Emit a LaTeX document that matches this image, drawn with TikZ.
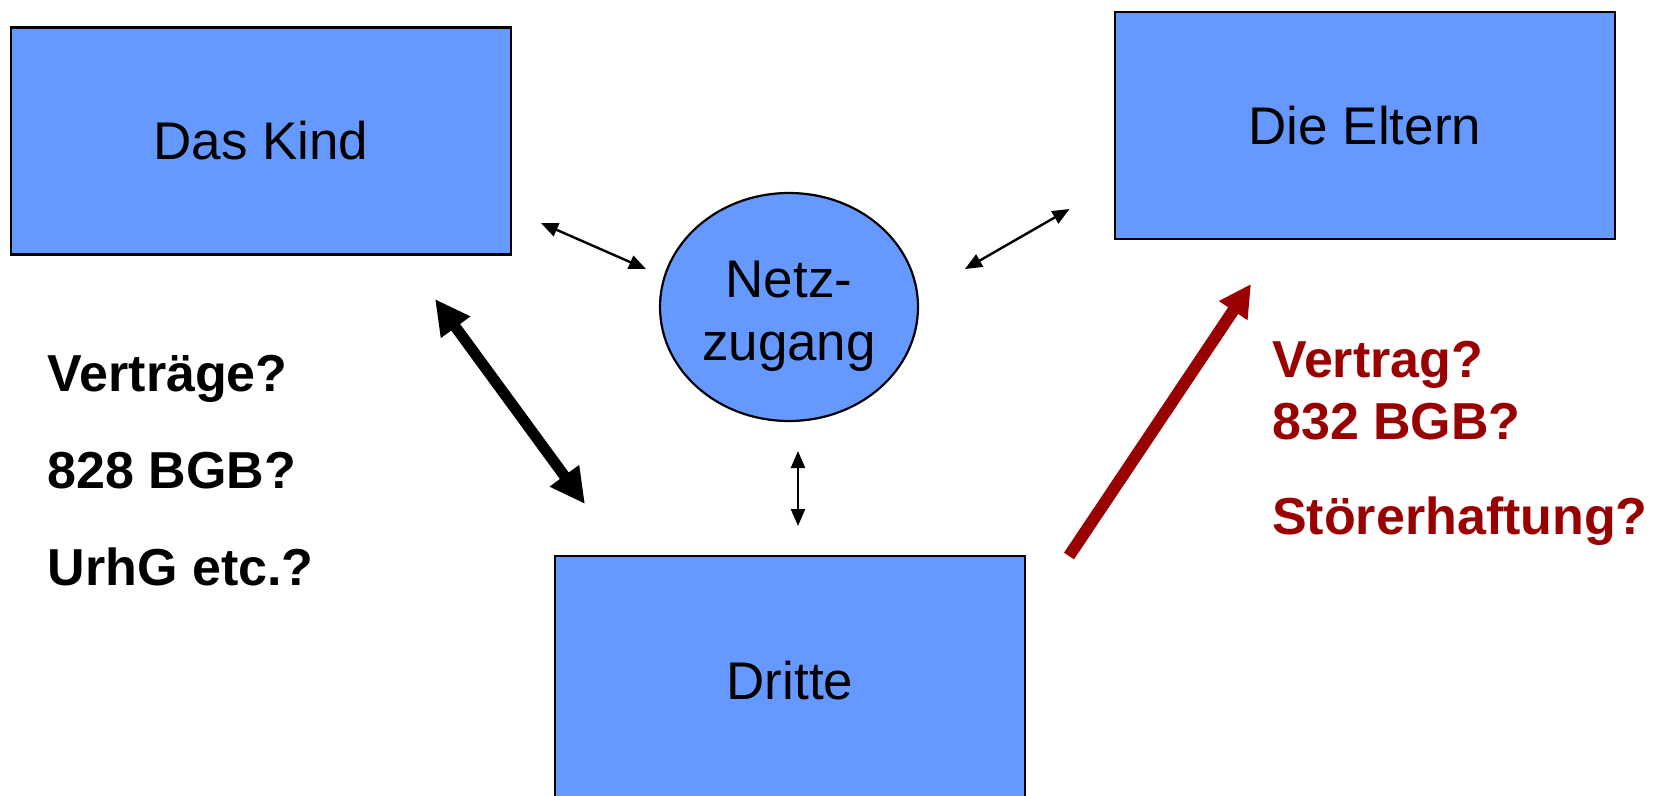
\documentclass[tikz,border=0pt]{standalone}
\usepackage{fontspec}
\setmainfont{Liberation Sans}
\usetikzlibrary{arrows.meta,shapes.geometric}
\definecolor{boxblue}{HTML}{6699FF}
\definecolor{darkred}{HTML}{990000}
\begin{document}
\begin{tikzpicture}[x=1pt,y=-1pt,
  box/.style={draw=black,line width=2.2pt,fill=boxblue,rectangle,minimum width=500pt,minimum height=227pt,inner sep=0pt,font=\fontsize{53}{60}\selectfont},
  lbl/.style={inner sep=0pt,anchor=base,font=\fontsize{53}{60}\selectfont},
  qtext/.style={inner sep=0pt,anchor=base west,font=\fontsize{52}{60}\selectfont\bfseries},
  thinarrow/.style={line width=2.4pt,{Triangle[length=17pt,width=14pt]}-{Triangle[length=17pt,width=14pt]}},
  thickarrow/.style={line width=11pt,{Triangle[length=35pt,width=34pt]}-{Triangle[length=35pt,width=34pt]}},
  redarrow/.style={line width=12pt,draw=darkred,-{Triangle[length=32pt,width=32pt]}}]
\useasboundingbox (0,0) rectangle (1659,795);
\begin{scope}
\clip (0,0) rectangle (1659,795);
\node[box] (kind) at (261,141) {Das Kind};
\node[box] (eltern) at (1365,125.5) {Die Eltern};
\node[box,minimum width=470pt,minimum height=250pt] (dritte) at (790,681) {Dritte};
\end{scope}
\node[draw=black,line width=2.2pt,fill=boxblue,ellipse,minimum width=258pt,minimum height=228pt,inner sep=0pt] (netz) at (789,307) {};
\node[lbl] (netz1) at (789,297) {Netz-};
\node[lbl] (netz2) at (789,360) {zugang};
% connector end points
\coordinate (a1) at (541,223);
\coordinate (a2) at (646,269);
\coordinate (b1) at (1069.5,209);
\coordinate (b2) at (965,269);
\coordinate (c1) at (798,451);
\coordinate (c2) at (798,526);
\coordinate (d1) at (435,299);
\coordinate (d2) at (585,504);
\coordinate (e1) at (1069,556);
\coordinate (e2) at (1251,284);
\draw[thinarrow] (a1) -- (a2);
\draw[thinarrow] (b1) -- (b2);
\draw[thinarrow] (c1) -- (c2);
\draw[thickarrow] (d1) -- (d2);
\draw[redarrow] (e1) -- (e2);
% texts
\node[qtext] (q1) at (47.6,391) {Verträge?};
\node[qtext] (q2) at (47.6,488) {828 BGB?};
\node[qtext] (q3) at (47.6,585) {UrhG etc.?};
\node[qtext,text=darkred] (r1) at (1272,377) {Vertrag?};
\node[qtext,text=darkred] (r2) at (1272,439) {832 BGB?};
\node[qtext,text=darkred] (r3) at (1272,534) {Störerhaftung?};
\end{tikzpicture}
\end{document}
